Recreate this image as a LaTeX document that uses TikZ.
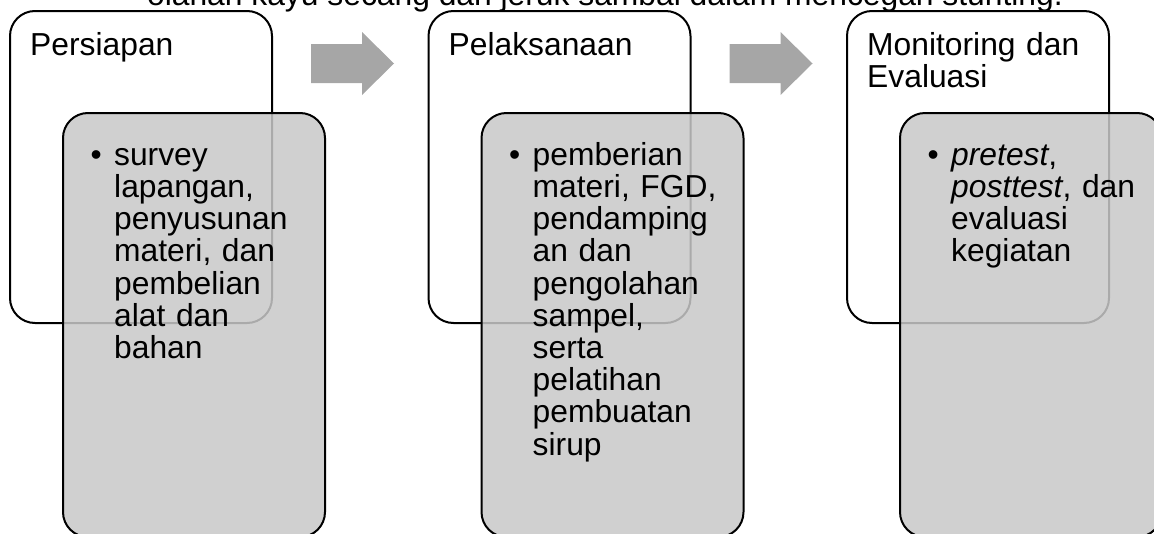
\documentclass[tikz,border=0pt]{standalone}
\usepackage{fontspec}
\setmainfont{Liberation Sans}
\definecolor{isigray}{RGB}{200,200,200}
\definecolor{panahgray}{RGB}{166,166,166}
\tikzset{
  tahap/.style={draw,line width=2pt,rounded corners=25pt,fill=white,
    minimum width=262pt,minimum height=312pt,inner sep=0pt,outer sep=0pt},
  isi/.style={draw,line width=2pt,rounded corners=25pt,fill=isigray,fill opacity=0.85,
    minimum width=262pt,minimum height=424pt,inner sep=0pt,outer sep=0pt},
  teks/.style={font=\fontsize{31.8}{32.2}\selectfont,inner sep=0pt,anchor=north west,
    text width=230pt,align=left},
  panah/.style={fill=panahgray},
}
\newcommand{\atas}{\rule{0pt}{30pt}}
\newcommand{\butir}{\llap{\textbullet\hspace{12.4pt}}}

\begin{document}
\begin{tikzpicture}[x=1pt,y=-1pt]
\useasboundingbox (0,0) rectangle (1154,533);
\clip (0,0) rectangle (1154,533);

% caption line cut off at the top
\node[font=\fontsize{31.8}{32.2}\selectfont,inner sep=0pt,anchor=base] (judul) at (605,5)
  {olahan kayu secang dan jeruk sambal dalam mencegah stunting.};

% white boxes
\node[tahap] (tahap1) at (141,167) {};
\node[tahap] (tahap2) at (559.5,167) {};
\node[tahap] (tahap3) at (978,167) {};

% grey boxes
\node[isi] (isi1) at (194,325) {};
\node[isi] (isi2) at (612.5,325) {};
\node[isi] (isi3) at (1031,325) {};

% arrows
\foreach \dx in {0,418.5}
  \fill[panah,shift={(\dx,0)}] (311,44) -- (362,44) -- (362,32) -- (394,63.5)
    -- (362,95) -- (362,83) -- (311,83) -- cycle;

% headings
\node[teks] (judul1) at ([shift={(20,14)}]tahap1.north west) {\noindent\atas Persiapan};
\node[teks] (judul2) at ([shift={(20,14)}]tahap2.north west) {\noindent\atas Pelaksanaan};
\node[teks] (judul3) at ([shift={(20,14)}]tahap3.north west) {\noindent\atas Monitoring dan\\Evaluasi};

% bullet texts
\node[teks] (butir1) at ([shift={(51,22)}]isi1.north west)
  {\noindent\butir\atas survey\\lapangan,\\penyusunan\\materi, dan\\pembelian\\alat dan\\bahan};
\node[teks] (butir2) at ([shift={(51,22)}]isi2.north west)
  {\noindent\butir\atas pemberian\\materi, FGD,\\pendamping\\an dan\\pengolahan\\sampel,\\serta\\pelatihan\\pembuatan\\sirup};
\node[teks] (butir3) at ([shift={(51,22)}]isi3.north west)
  {\noindent\butir\atas \textit{pretest},\\\textit{posttest}, dan\\evaluasi\\kegiatan};
\end{tikzpicture}
\end{document}
